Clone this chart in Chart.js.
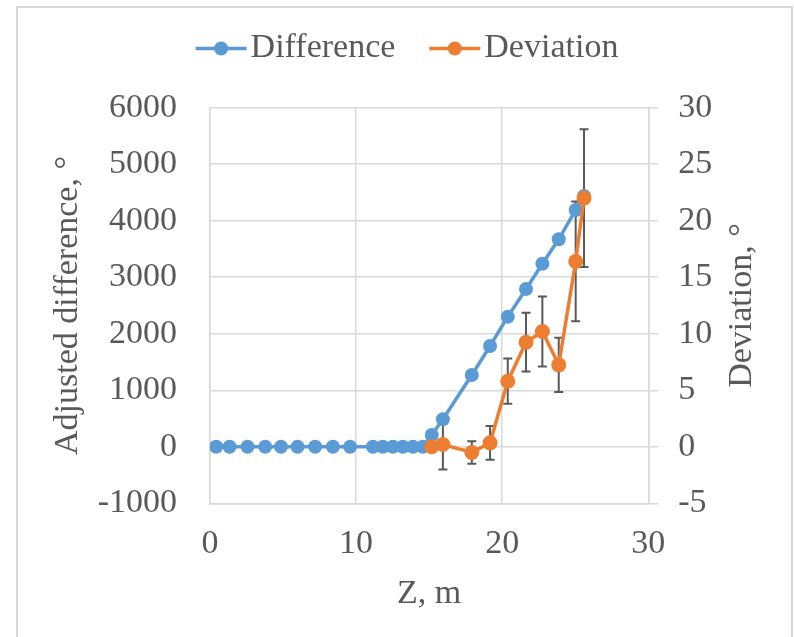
<!DOCTYPE html>
<html>
<head>
<meta charset="utf-8">
<script src="https://cdn.jsdelivr.net/npm/chart.js@4.4.1/dist/chart.umd.min.js"></script>
<style>
html, body { margin: 0; padding: 0; background: #fff; }
</style>
</head>
<body>
<canvas id="chart" width="794" height="637"></canvas>
<script>
// values
var zDifference = [0.43, 1.34, 2.57, 3.78, 4.86, 5.99, 7.2, 8.41, 9.59, 11.15, 11.83, 12.52, 13.2, 13.89, 14.57,
                   15.18, 15.94, 17.92, 19.17, 20.38, 21.63, 22.75, 23.87, 25.03, 25.6];
var difference = [0, 0, 0, 0, 0, 0, 0, 0, 0, 0, 0, 0, 0, 0, 0,
                  209, 487, 1271, 1784, 2302, 2792, 3240, 3672, 4190, 4438];
var zDeviation = [15.18, 15.94, 17.92, 19.17, 20.38, 21.63, 22.75, 23.87, 25.03, 25.6];
var deviation = [0, 0.2, -0.5, 0.35, 5.8, 9.25, 10.2, 7.25, 16.4, 22.0];
var deviationErr = [0, 2.2, 1.0, 1.5, 2.0, 2.6, 3.1, 2.4, 5.3, 6.1];

var seriesNames = ['Difference', 'Deviation'];
var seriesColors = ['#5B9BD5', '#ED7D31'];

var fontFamily = '"Liberation Serif", "Times New Roman", serif';
var textColor = '#595959';
var gridColor = '#d9d9d9';

function pairs(xs, ys) {
    return xs.map(function (x, i) { return {x: x, y: ys[i]}; });
}

var extras = {
    id: 'extras',
    beforeDraw: function (chart) {
        var ctx = chart.ctx;
        ctx.save();
        ctx.strokeStyle = gridColor;
        ctx.lineWidth = 2;
        ctx.strokeRect(17, 7, 775, 700);
        ctx.restore();
    },
    beforeDatasetsDraw: function (chart) {
        // error bars on the Deviation series
        var ctx = chart.ctx;
        var xs = chart.scales.x, ys = chart.scales.y1;
        ctx.save();
        ctx.strokeStyle = '#595959';
        ctx.lineWidth = 2;
        zDeviation.forEach(function (z, i) {
            var e = deviationErr[i];
            if (!e) return;
            var px = xs.getPixelForValue(z);
            var top = ys.getPixelForValue(deviation[i] + e);
            var bot = ys.getPixelForValue(deviation[i] - e);
            ctx.beginPath();
            ctx.moveTo(px, top); ctx.lineTo(px, bot);
            ctx.moveTo(px - 4.5, top); ctx.lineTo(px + 4.5, top);
            ctx.moveTo(px - 4.5, bot); ctx.lineTo(px + 4.5, bot);
            ctx.stroke();
        });
        ctx.restore();
    },
    afterDraw: function (chart) {
        var ctx = chart.ctx;
        var area = chart.chartArea;
        ctx.save();
        ctx.font = '34px ' + fontFamily;
        ctx.textBaseline = 'middle';
        ctx.textAlign = 'left';

        // legend
        var items = chart.data.datasets.map(function (ds) {
            return {text: ds.label, color: ds.borderColor, w: ctx.measureText(ds.label).width};
        });
        var lineLen = 51, gap = 4, between = 34;
        var total = items.reduce(function (s, it) { return s + lineLen + gap + it.w; }, 0) + between * (items.length - 1);
        var x = 407 - total / 2, y = 48.5;
        items.forEach(function (it) {
            ctx.strokeStyle = it.color;
            ctx.lineWidth = 3.5;
            ctx.beginPath();
            ctx.moveTo(x, y); ctx.lineTo(x + lineLen, y);
            ctx.stroke();
            ctx.fillStyle = it.color;
            ctx.beginPath();
            ctx.arc(x + lineLen / 2, y, 7, 0, Math.PI * 2);
            ctx.fill();
            ctx.fillStyle = textColor;
            ctx.fillText(it.text, x + lineLen + gap, y);
            x += lineLen + gap + it.w + between;
        });

        // right axis title, reads bottom to top
        ctx.translate(741.8, (area.top + area.bottom) / 2);
        ctx.rotate(-Math.PI / 2);
        ctx.textAlign = 'center';
        ctx.fillStyle = textColor;
        ctx.fillText('Deviation, °', 0, 0);
        ctx.restore();
    }
};

var tickFont = {family: fontFamily, size: 34, lineHeight: 1.2};
var plainNumber = {useGrouping: false};

new Chart(document.getElementById('chart'), {
    type: 'line',
    data: {
        datasets: [
            {
                label: seriesNames[0],
                data: pairs(zDifference, difference),
                yAxisID: 'y',
                borderColor: seriesColors[0],
                backgroundColor: seriesColors[0],
                borderWidth: 3.5,
                pointRadius: 7,
                pointBorderWidth: 0,
                tension: 0,
                order: 1
            },
            {
                label: seriesNames[1],
                data: pairs(zDeviation, deviation),
                yAxisID: 'y1',
                borderColor: seriesColors[1],
                backgroundColor: seriesColors[1],
                borderWidth: 3.5,
                pointRadius: 7.5,
                pointBorderWidth: 0,
                tension: 0,
                order: 0
            }
        ]
    },
    options: {
        responsive: false,
        animation: false,
        layout: {padding: {top: 107.7, left: 0, right: 0, bottom: 0}},
        plugins: {
            legend: {display: false},
            tooltip: {enabled: false}
        },
        scales: {
            x: {
                type: 'linear',
                min: 0,
                max: 30,
                ticks: {stepSize: 10, font: tickFont, color: textColor, padding: 20.3, format: plainNumber},
                grid: {color: gridColor, lineWidth: 1.5, drawTicks: false},
                border: {color: gridColor, width: 1.5},
                title: {display: true, text: 'Z, m', font: tickFont, color: textColor, padding: {top: 0, bottom: 22.6}},
                afterFit: function (s) { s.height = 133.7; }
            },
            y: {
                position: 'left',
                min: -1000,
                max: 6000,
                ticks: {stepSize: 1000, font: tickFont, color: textColor, padding: 33, format: plainNumber},
                grid: {color: gridColor, lineWidth: 1.5, drawTicks: false},
                border: {color: gridColor, width: 1.5},
                title: {display: true, text: 'Adjusted difference, °', font: tickFont, color: textColor, padding: {top: 48.1, bottom: 0}},
                afterFit: function (s) { s.width = 210; }
            },
            y1: {
                position: 'right',
                min: -5,
                max: 30,
                ticks: {stepSize: 5, font: tickFont, color: textColor, padding: 20, format: plainNumber},
                grid: {color: gridColor, lineWidth: 1.5, drawOnChartArea: false, drawTicks: true, tickLength: 10},
                border: {color: gridColor, width: 1.5},
                afterFit: function (s) { s.width = 145.7; }
            }
        }
    },
    plugins: [extras]
});
</script>
</body>
</html>
